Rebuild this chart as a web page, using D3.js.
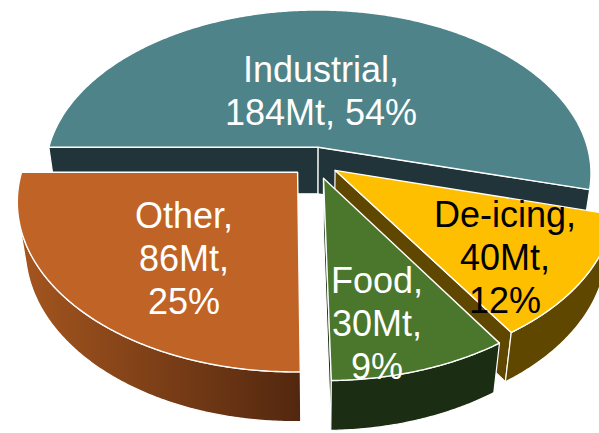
<!DOCTYPE html>
<html>
<head>
<meta charset="utf-8">
<script src="https://cdn.jsdelivr.net/npm/d3@7"></script>
<style>
  html, body { margin: 0; padding: 0; background: #fff; overflow: hidden; }
  text { font-family: "Liberation Sans", Arial, sans-serif; }
</style>
</head>
<body>
<svg id="chart" width="599" height="433"></svg>
<script>
// Salt consumption by use (million tonnes and share of total)
const categories = ["Industrial", "De-icing", "Food", "Other"];
const tonnes = [184, 40, 30, 86];
const shares = [54, 12, 9, 25];

// Styling per slice
const topColors = ["#4E8489", "#FDBF00", "#4A772B", "#C06326"];
const sideColors = ["#20343A", "#5F4700", "#1B2D12", "url(#otherSide)"];
const labelColors = ["#ffffff", "#000000", "#ffffff", "#ffffff"];
const explodeBy = [0.09, 0.09, 0.105, 0.09];
const labelAnchors = [[321, 82], [505, 227], [377, 293], [184, 228]];

// Simple perspective camera looking down on a unit-radius disc
const W = 599, H = 433;
const tilt = 36.8 * Math.PI / 180, sinA = Math.sin(tilt), cosA = Math.cos(tilt);
const dist = 4.96, focal = 1355, thick = 0.22;
const sx = d3.scaleLinear().domain([0, 1]).range([315, 315 + focal]);
const sy = d3.scaleLinear().domain([0, 1]).range([161.6, 161.6 - focal]);
const cam = [0, dist * sinA, dist * cosA];

function project([X, Y, Z]) {
  const depth = dist - (Y * sinA + Z * cosA);
  const v = Y * cosA - Z * sinA;
  return [sx(X / depth), sy(v / depth)];
}
function facing(n, p) {
  return n[0] * (cam[0] - p[0]) + n[1] * (cam[1] - p[1]) + n[2] * (cam[2] - p[2]) > 0;
}

const svg = d3.select("#chart");
const defs = svg.append("defs");
const grad = defs.append("linearGradient").attr("id", "otherSide")
  .attr("gradientUnits", "userSpaceOnUse")
  .attr("x1", 18).attr("y1", 0).attr("x2", 302).attr("y2", 0);
grad.append("stop").attr("offset", 0).attr("stop-color", "#A5561F");
grad.append("stop").attr("offset", 1).attr("stop-color", "#52270F");

const rows = categories.map((c, i) => ({ name: c, value: tonnes[i], share: shares[i], i }));
const pie = d3.pie().sort(null).value(d => d.value)
  .startAngle(-Math.PI / 2).endAngle(1.5 * Math.PI);
const arcs = pie(rows);

const line = d3.line();
const step = Math.PI / 360;

arcs.forEach(a => {
  const e = explodeBy[a.data.i];
  const mid = (a.startAngle + a.endAngle) / 2;
  a.ex = e * Math.sin(mid);
  a.ez = -e * Math.cos(mid);
});

// back-to-front drawing order
const order = arcs.slice().sort((p, q) => p.ez - q.ez);

order.forEach(a => {
  const i = a.data.i;
  const g = svg.append("g");
  const pt = (t, Y) => [a.ex + Math.sin(t), Y, a.ez - Math.cos(t)];
  const n = Math.max(2, Math.ceil((a.endAngle - a.startAngle) / step));
  const ts = d3.range(n + 1).map(k => a.startAngle + (a.endAngle - a.startAngle) * k / n);
  const centerTop = [a.ex, 0, a.ez], centerBot = [a.ex, -thick, a.ez];

  const faceStyle = sel => sel.attr("fill", sideColors[i]).attr("stroke", "#fff")
    .attr("stroke-width", 1.2).attr("stroke-linejoin", "round");

  // radial cut faces
  [[a.startAngle, -1], [a.endAngle, 1]].forEach(([t, s]) => {
    const nrm = [s * Math.cos(t), 0, s * Math.sin(t)];
    if (!facing(nrm, centerTop)) return;
    const quad = [centerTop, pt(t, 0), pt(t, -thick), centerBot].map(project);
    g.append("path").attr("d", line(quad) + "Z").call(faceStyle);
  });

  // outer curved wall, only the runs that face the camera
  let run = [];
  const flush = () => {
    if (run.length > 1) {
      const poly = run.map(t => project(pt(t, 0)))
        .concat(run.slice().reverse().map(t => project(pt(t, -thick))));
      g.append("path").attr("d", line(poly) + "Z").call(faceStyle);
    }
    run = [];
  };
  ts.forEach(t => {
    const p = pt(t, -thick / 2);
    if (facing([Math.sin(t), 0, -Math.cos(t)], p)) run.push(t); else flush();
  });
  flush();

  // top face
  const top = [project(centerTop)].concat(ts.map(t => project(pt(t, 0))));
  g.append("path").attr("d", line(top) + "Z")
    .attr("fill", topColors[i]).attr("stroke", "#fff")
    .attr("stroke-width", 1.4).attr("stroke-linejoin", "round");
});

// data labels
arcs.forEach(a => {
  const d = a.data;
  const lines = d.name === "Industrial"
    ? [d.name + ",", d.value + "Mt, " + d.share + "%"]
    : [d.name + ",", d.value + "Mt,", d.share + "%"];
  const [lx, ly] = labelAnchors[d.i];
  const t = svg.append("text").attr("text-anchor", "middle")
    .attr("font-size", 36).attr("fill", labelColors[d.i]);
  lines.forEach((s, k) => t.append("tspan").attr("x", lx).attr("y", ly + k * 43).text(s));
});
</script>
</body>
</html>
